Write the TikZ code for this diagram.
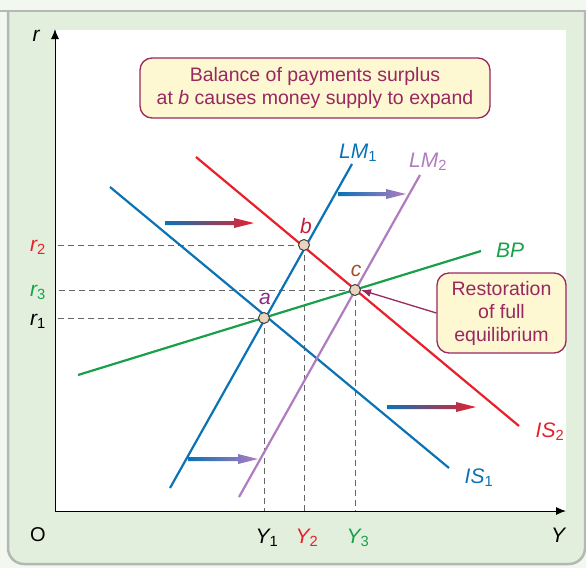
\documentclass[tikz,border=0pt]{standalone}
\usepackage{fontspec}
\setmainfont{Liberation Sans}
\usetikzlibrary{arrows.meta}
\definecolor{cblue}{HTML}{0A72B5}
\definecolor{cred}{HTML}{E8202A}
\definecolor{cpurp}{HTML}{B07CC0}
\definecolor{cgreen}{HTML}{1AA04A}
\definecolor{cmag}{HTML}{98285F}
\definecolor{cpanel}{HTML}{E2EFDC}
\definecolor{ctop}{HTML}{F2F7F0}
\definecolor{cframe}{HTML}{B4B8B4}
\definecolor{cpt}{HTML}{E9D4BF}
\definecolor{cbox}{HTML}{FDF8D2}
\definecolor{clabA}{HTML}{8A2A8A}
\definecolor{clabB}{HTML}{C01E3C}
\definecolor{clabC}{HTML}{A0522D}
\newcommand{\lsub}[1]{\textsubscript{#1}}
\newcommand{\gradarrow}[4]{%
  \shade[left color=cblue,right color=#4]
    (#1,{#3-2}) -- ({#2-20},{#3-2}) -- ({#2-20},{#3-5}) -- (#2,#3) --
    ({#2-20},{#3+5}) -- ({#2-20},{#3+2}) -- (#1,{#3+2}) -- cycle;}
\begin{document}
\begin{tikzpicture}[x=1pt,y=-1pt,
  curve/.style={line width=2.2pt},
  guide/.style={draw=black!60,line width=0.9pt,dash pattern=on 6pt off 4pt},
  pt/.style={circle,draw=black!75,fill=cpt,line width=1pt,minimum size=11pt,inner sep=0pt},
  lab/.style={font=\fontsize{20}{22}\selectfont},
  ilab/.style={font=\fontsize{21}{23}\selectfont\itshape},
  callout/.style={draw=cmag,fill=cbox,line width=1.3pt,rounded corners=12pt,
    text=cmag,align=center,font=\fontsize{19.5}{23}\selectfont,inner sep=0pt}]
\useasboundingbox (0,0) rectangle (586,568);
% background panel
\fill[ctop] (0,0) rectangle (586,568);
\fill[cpanel,rounded corners=16pt] (8,11) -- (8,564) -- (585,564) -- (585,11) [sharp corners] -- cycle;
\fill[cpanel] (8,11) rectangle (585,40);
\draw[cframe,line width=2.5pt,rounded corners=16pt] (8,11) -- (8,564) -- (585,564) -- (585,11);
\draw[cframe,line width=2.5pt] (0,11) -- (586,11);
\fill[white] (55,30) rectangle (566,511);
% axes
\coordinate (origin) at (55,511);
\coordinate (ytop) at (55,29);
\coordinate (xend) at (566,511);
\draw[line width=1pt,-{Latex[length=10pt,width=8pt]}] (origin) -- (ytop);
\draw[line width=1pt,-{Latex[length=10pt,width=8pt]}] (origin) -- (xend);
\node[ilab] (rlab) at (36,36) {r};
\node[ilab] (Ylab) at (558,535) {Y};
\node[lab] (Olab) at (38,535) {O};
% equilibrium points
\coordinate (a) at (264,318);
\coordinate (b) at (304,245);
\coordinate (c) at (355,290);
% guides
\draw[guide] (a) -- (a -| origin);
\draw[guide] (b) -- (b -| origin);
\draw[guide] (c) -- (c -| origin);
\draw[guide] (a) -- (a |- origin);
\draw[guide] (b) -- (b |- origin);
\draw[guide] (c) -- (c |- origin);
% axis labels
\node[ilab] (r2) at (38,247) {\textcolor{cred}{r\lsub{\upshape 2}}};
\node[ilab] (r3) at (38,292) {\textcolor{cgreen}{r\lsub{\upshape 3}}};
\node[ilab] (r1) at (38,321) {r\lsub{\upshape 1}};
\node[ilab] (Y1) at (267,538) {Y\lsub{\upshape 1}};
\node[ilab,text=cred] (Y2) at (307,538) {Y\lsub{\upshape 2}};
\node[ilab,text=cgreen] (Y3) at (358,538) {Y\lsub{\upshape 3}};
% curves
\coordinate (bp1) at (78,375);
\coordinate (bp2) at (481,251);
\coordinate (is1a) at (110,187);
\coordinate (is1b) at (449,468);
\coordinate (is2a) at (196,157);
\coordinate (is2b) at (519,426);
\coordinate (lm1a) at (170,488);
\coordinate (lm1b) at (352,164);
\coordinate (lm2a) at (239,497);
\coordinate (lm2b) at (420,175);
\draw[curve,cgreen] (bp1) -- (bp2);
\draw[curve,cblue] (is1a) -- (is1b);
\draw[curve,cred] (is2a) -- (is2b);
\draw[curve,cpurp] (lm2a) -- (lm2b);
\draw[curve,cblue] (lm1a) -- (lm1b);
\node[ilab,text=cgreen] (BPlab) at (510,250) {BP};
\node[ilab,text=cblue] (IS1lab) at (479,478) {IS\lsub{\upshape 1}};
\node[ilab,text=cred] (IS2lab) at (550,432) {IS\lsub{\upshape 2}};
\node[ilab,text=cblue] (LM1lab) at (358,153) {LM\lsub{\upshape 1}};
\node[ilab,text=cpurp] (LM2lab) at (428,162) {LM\lsub{\upshape 2}};
% shift arrows
\gradarrow{165}{254}{223}{cred}
\gradarrow{338}{406}{194}{cpurp}
\gradarrow{387}{476}{407}{cred}
\gradarrow{188}{258}{459}{cpurp}
% points
\node[pt] (pa) at (a) {};
\node[pt] (pb) at (b) {};
\node[pt] (pc) at (c) {};
\node[ilab,text=clabA] (alab) at (265,299) {a};
\node[ilab,text=clabB] (blab) at (306,226) {b};
\node[ilab,text=clabC] (clab) at (356,271) {c};
% callouts
\node[callout,minimum width=350pt,minimum height=60pt] (box1) at (315,88)
  {Balance of payments surplus\\at {\itshape b} causes money supply to expand};
\node[callout,minimum width=129pt,minimum height=80pt] (box2) at (501.5,313)
  {Restoration\\of full\\equilibrium};
\draw[cmag,line width=1.3pt,-{Latex[length=10pt,width=8pt]}] (box2.west) -- (pc.east);
\end{tikzpicture}
\end{document}
